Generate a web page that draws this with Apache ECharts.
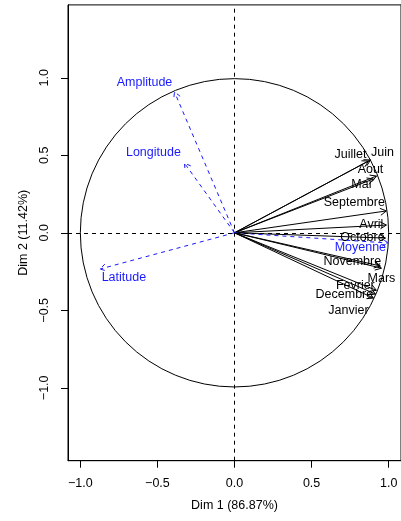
<!DOCTYPE html>
<html>
<head>
<meta charset="utf-8">
<script src="https://cdn.jsdelivr.net/npm/echarts@6/dist/echarts.min.js"></script>
<style>
  html, body { margin: 0; padding: 0; background: #fff; }
  #chart { width: 401px; height: 521px; }
</style>
</head>
<body>
<div id="chart"></div>
<script>
// Variables factor map: correlations of each variable with Dim 1 and Dim 2
const activeVars = ['Janvier', 'Fevrier', 'Mars', 'Avril', 'Mai', 'Juin',
                    'Juillet', 'Aout', 'Septembre', 'Octobre', 'Novembre', 'Decembre'];
const activeDim1 = [0.901, 0.920, 0.953, 0.985, 0.901, 0.882, 0.869, 0.921, 0.985, 0.979, 0.946, 0.914];
const activeDim2 = [-0.421, -0.371, -0.228, 0.050, 0.347, 0.470, 0.463, 0.366, 0.141, -0.034, -0.214, -0.395];

// Supplementary variables (drawn dashed, in blue)
const suppVars = ['Moyenne', 'Amplitude', 'Latitude', 'Longitude'];
const suppDim1 = [0.998, -0.389, -0.873, -0.325];
const suppDim2 = [-0.066, 0.908, -0.234, 0.450];

const tickValues = [-1, -0.5, 0, 0.5, 1];
const xTitle = 'Dim 1 (86.87%)';
const yTitle = 'Dim 2 (11.42%)';

// Label placement (pixel offsets from each arrow tip)
const activeLabelDx = [-25, -21, 0, -15, -12, 12, -18, -6, -32, -23, -28, -31];
const activeLabelDy = [12, -5, 10, -1, 6, -7, -6, -7, -8, -1, -4, 1];
const suppLabelDx = [-28, -30, 24, -31];
const suppLabelDy = [5, -9, 8, -10];

const FONT = '12.5px "Liberation Sans", Arial, sans-serif';
const BLUE = '#1a1aff';

function fmt(v) {
  const s = Math.abs(v).toFixed(1);
  return v < 0 ? '\u2212' + s : s;
}

function arrowRenderer(names, dx, dy, color, dashed) {
  return function (params, api) {
    const i = params.dataIndex;
    const o = api.coord([0, 0]);
    const p = api.coord([api.value(0), api.value(1)]);
    const ang = Math.atan2(p[1] - o[1], p[0] - o[0]);
    const L = 7, spread = Math.PI / 6;
    const h1 = [p[0] - L * Math.cos(ang - spread), p[1] - L * Math.sin(ang - spread)];
    const h2 = [p[0] - L * Math.cos(ang + spread), p[1] - L * Math.sin(ang + spread)];
    const lineStyle = { stroke: color, lineWidth: 1, fill: null };
    if (dashed) lineStyle.lineDash = [4, 4];
    return {
      type: 'group',
      children: [
        { type: 'line', shape: { x1: o[0], y1: o[1], x2: p[0], y2: p[1] }, style: lineStyle },
        { type: 'polyline', shape: { points: [h1, p, h2] }, style: Object.assign({}, lineStyle) },
        {
          type: 'text',
          x: p[0] + dx[i], y: p[1] + dy[i],
          style: { text: names[i], fill: color, font: FONT, align: 'center', verticalAlign: 'middle' }
        }
      ]
    };
  };
}

const chart = echarts.init(document.getElementById('chart'), null, { renderer: 'canvas' });

chart.setOption({
  animation: false,
  backgroundColor: '#fff',
  grid: {
    left: 68, top: 4.9, width: 334.8, height: 455.8,
    containLabel: false, show: true, borderColor: '#000', borderWidth: 1, backgroundColor: 'transparent'
  },
  xAxis: {
    type: 'value', min: -1.08, max: 1.08,
    splitLine: { show: false },
    axisLine: { show: true, onZero: false, lineStyle: { color: '#000', width: 1 } },
    axisTick: { show: true, customValues: tickValues, length: 7, lineStyle: { color: '#000' } },
    axisLabel: {
      customValues: tickValues, formatter: fmt, margin: 16,
      color: '#000', font: FONT, fontSize: 12.5, fontFamily: '"Liberation Sans", Arial, sans-serif'
    },
    name: xTitle, nameLocation: 'middle', nameGap: 38,
    nameTextStyle: { color: '#000', fontSize: 12.5, fontFamily: '"Liberation Sans", Arial, sans-serif' }
  },
  yAxis: {
    type: 'value', min: -1.47, max: 1.47,
    splitLine: { show: false },
    axisLine: { show: true, onZero: false, lineStyle: { color: '#000', width: 1 } },
    axisTick: { show: true, customValues: tickValues, length: 7, lineStyle: { color: '#000' } },
    axisLabel: {
      customValues: tickValues, formatter: fmt, margin: 17, rotate: 90,
      color: '#000', fontSize: 12.5, fontFamily: '"Liberation Sans", Arial, sans-serif'
    },
    name: yTitle, nameLocation: 'middle', nameGap: 38, nameRotate: 90,
    nameTextStyle: { color: '#000', fontSize: 12.5, fontFamily: '"Liberation Sans", Arial, sans-serif' }
  },
  series: [
    {
      // unit correlation circle plus the dashed axes through the origin
      type: 'custom',
      silent: true,
      clip: false,
      data: [[0, 0, 1]],
      renderItem: function (params, api) {
        const c = api.coord([api.value(0), api.value(1)]);
        const r = api.size([api.value(2), 0])[0];
        return {
          type: 'circle',
          shape: { cx: c[0], cy: c[1], r: r },
          style: { stroke: '#000', lineWidth: 1, fill: null }
        };
      },
      markLine: {
        silent: true,
        symbol: 'none',
        label: { show: false },
        lineStyle: { color: '#000', width: 1, type: [4, 4] },
        data: [{ xAxis: 0 }, { yAxis: 0 }]
      }
    },
    {
      type: 'custom',
      silent: true,
      clip: false,
      data: activeVars.map((n, i) => [activeDim1[i], activeDim2[i]]),
      renderItem: arrowRenderer(activeVars, activeLabelDx, activeLabelDy, '#000', false)
    },
    {
      type: 'custom',
      silent: true,
      clip: false,
      data: suppVars.map((n, i) => [suppDim1[i], suppDim2[i]]),
      renderItem: arrowRenderer(suppVars, suppLabelDx, suppLabelDy, BLUE, true)
    }
  ]
});
</script>
</body>
</html>
